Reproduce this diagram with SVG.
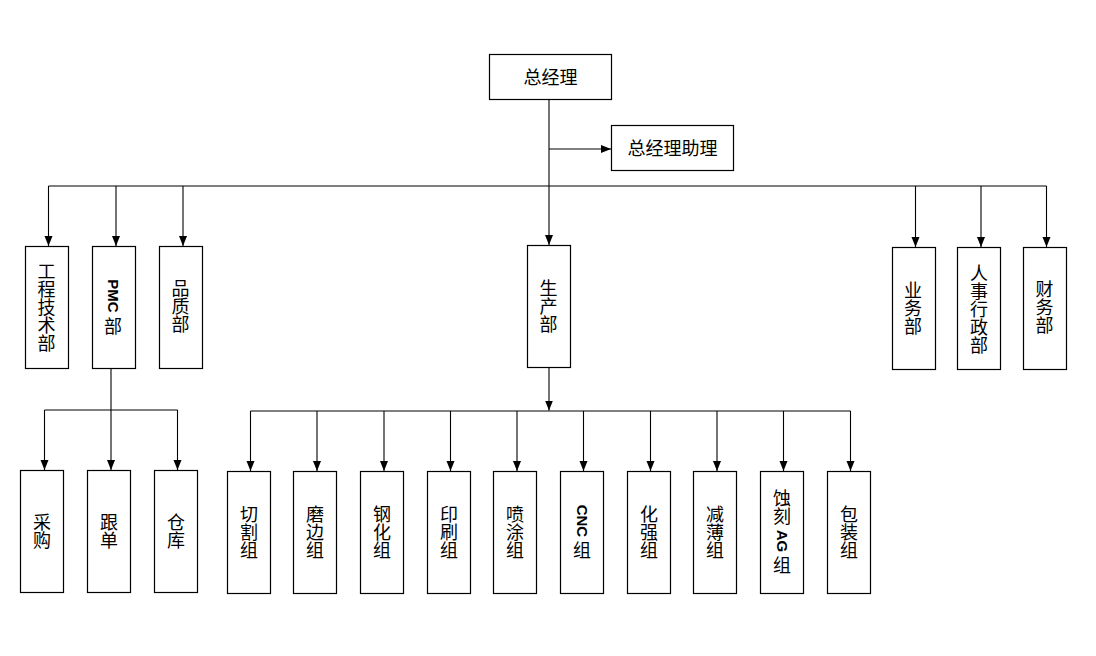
<svg xmlns="http://www.w3.org/2000/svg" width="1096" height="656" viewBox="0 0 1096 656">
<style>
.box{fill:#fff;stroke:#000;stroke-width:1.2}
.t{font-family:"Noto Sans CJK SC","Liberation Sans",sans-serif;font-size:18px;fill:#000;text-anchor:middle;dominant-baseline:central}
.v{font-family:"Noto Sans CJK SC","Liberation Sans",sans-serif;font-size:18px;fill:#000;text-anchor:middle;dominant-baseline:central;writing-mode:vertical-rl;text-orientation:mixed}
.b{font-family:"Liberation Sans",Arial,sans-serif;font-size:15px;font-weight:bold}
.ln{fill:none;stroke:#000;stroke-width:1.1}
.ar{fill:none;stroke:#000;stroke-width:1.1;marker-end:url(#ah)}
</style>
<defs>
<marker id="ah" markerUnits="userSpaceOnUse" markerWidth="10" markerHeight="10" refX="10" refY="5" orient="auto" viewBox="0 0 10 10">
<path d="M0,1 L10,5 L0,9 z" fill="#000"/>
</marker>
</defs>
<rect width="1096" height="656" fill="#fff"/>
<g id="connectors">
<path class="ar" d="M549,99.5 V245"/>
<path class="ar" d="M549,149 H611"/>
<path class="ln" d="M48.5,186 H1046.5"/>
<path class="ar" d="M48.5,186 V246"/>
<path class="ar" d="M116,186 V246"/>
<path class="ar" d="M183,186 V246"/>
<path class="ar" d="M915.5,186 V247"/>
<path class="ar" d="M981,186 V247"/>
<path class="ar" d="M1046.5,186 V247"/>
<path class="ar" d="M111,368.5 V470"/>
<path class="ln" d="M44.5,410 H177.5"/>
<path class="ar" d="M44.5,410 V470"/>
<path class="ar" d="M177.5,410 V470"/>
<path class="ar" d="M549,367.5 V410.5"/>
<path class="ln" d="M250.5,411 H850.5"/>
<path class="ar" d="M250.5,411 V471"/>
<path class="ar" d="M317,411 V471"/>
<path class="ar" d="M384,411 V471"/>
<path class="ar" d="M450.5,411 V471"/>
<path class="ar" d="M517,411 V471"/>
<path class="ar" d="M583.5,411 V471"/>
<path class="ar" d="M650.5,411 V471"/>
<path class="ar" d="M717,411 V471"/>
<path class="ar" d="M783.5,411 V471"/>
<path class="ar" d="M850.5,411 V471"/>
</g>
<g id="gm"><rect class="box" x="489.5" y="54.5" width="122" height="45"/><text class="t" x="550.5" y="76">总经理</text></g>
<g id="assistant"><rect class="box" x="611.5" y="125.5" width="122" height="45"/><text class="t" x="672.5" y="147">总经理助理</text></g>
<g id="eng"><rect class="box" x="25.5" y="246.5" width="43" height="122"/><text class="v" x="46.5" y="307">工程技术部</text></g>
<g id="pmc"><rect class="box" x="92.5" y="246.5" width="43" height="122"/><text class="v" x="113" y="307"><tspan class="b">PMC </tspan>部</text></g>
<g id="qa"><rect class="box" x="159.5" y="246.5" width="43" height="122"/><text class="v" x="180.5" y="306">品质部</text></g>
<g id="prod"><rect class="box" x="527.5" y="245.5" width="43" height="122"/><text class="v" x="548.5" y="306">生产部</text></g>
<g id="sales"><rect class="box" x="892.5" y="247.5" width="43" height="122"/><text class="v" x="913" y="308">业务部</text></g>
<g id="hr"><rect class="box" x="957.5" y="247.5" width="43" height="122"/><text class="v" x="979" y="309">人事行政部</text></g>
<g id="fin"><rect class="box" x="1023.5" y="247.5" width="43" height="122"/><text class="v" x="1044.5" y="307">财务部</text></g>
<g id="purchase"><rect class="box" x="20.5" y="470.5" width="43" height="122"/><text class="v" x="42" y="531">采购</text></g>
<g id="follow"><rect class="box" x="87.5" y="470.5" width="43" height="122"/><text class="v" x="109" y="531">跟单</text></g>
<g id="store"><rect class="box" x="154.5" y="470.5" width="43" height="122"/><text class="v" x="176" y="531">仓库</text></g>
<g id="cut"><rect class="box" x="227.5" y="471.5" width="43" height="122"/><text class="v" x="249" y="532">切割组</text></g>
<g id="edge"><rect class="box" x="293.5" y="471.5" width="43" height="122"/><text class="v" x="315" y="532">磨边组</text></g>
<g id="temper"><rect class="box" x="360.5" y="471.5" width="43" height="122"/><text class="v" x="382" y="532">钢化组</text></g>
<g id="print"><rect class="box" x="427.5" y="471.5" width="43" height="122"/><text class="v" x="449" y="532">印刷组</text></g>
<g id="spray"><rect class="box" x="493.5" y="471.5" width="43" height="122"/><text class="v" x="515" y="532">喷涂组</text></g>
<g id="cnc"><rect class="box" x="560.5" y="471.5" width="43" height="122"/><text class="v" x="582" y="532"><tspan class="b">CNC </tspan>组</text></g>
<g id="strengthen"><rect class="box" x="627.5" y="471.5" width="43" height="122"/><text class="v" x="649" y="532">化强组</text></g>
<g id="thin"><rect class="box" x="693.5" y="471.5" width="43" height="122"/><text class="v" x="715" y="532">减薄组</text></g>
<g id="etch"><rect class="box" x="760.5" y="471.5" width="43" height="122"/><text class="v" x="782" y="532">蚀刻<tspan class="b"> AG </tspan>组</text></g>
<g id="pack"><rect class="box" x="827.5" y="471.5" width="43" height="122"/><text class="v" x="849" y="532">包装组</text></g>
</svg>
